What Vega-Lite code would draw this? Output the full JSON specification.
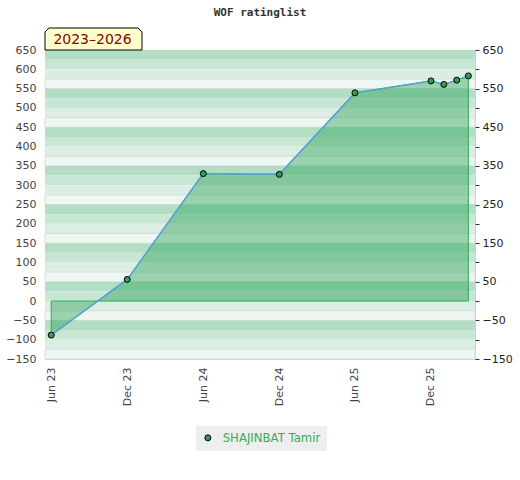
{
  "$schema": "https://vega.github.io/schema/vega-lite/v6.json",
  "width": 430,
  "height": 309,
  "autosize": "none",
  "padding": {"left": 45, "top": 50, "right": 45, "bottom": 121},
  "background": "white",
  "title": {
    "text": "WOF ratinglist",
    "font": "DejaVu Sans Mono",
    "fontSize": 11,
    "fontWeight": "bold",
    "color": "#333333",
    "frame": "group",
    "baseline": "bottom",
    "offset": -3
  },
  "datasets": {
    "stripes": [
      {"lo": 625, "hi": 650, "shade": 1}, {"lo": 600, "hi": 625, "shade": 2}, {"lo": 575, "hi": 600, "shade": 3}, {"lo": 550, "hi": 575, "shade": 4},
      {"lo": 525, "hi": 550, "shade": 1}, {"lo": 500, "hi": 525, "shade": 2}, {"lo": 475, "hi": 500, "shade": 3}, {"lo": 450, "hi": 475, "shade": 4},
      {"lo": 425, "hi": 450, "shade": 1}, {"lo": 400, "hi": 425, "shade": 2}, {"lo": 375, "hi": 400, "shade": 3}, {"lo": 350, "hi": 375, "shade": 4},
      {"lo": 325, "hi": 350, "shade": 1}, {"lo": 300, "hi": 325, "shade": 2}, {"lo": 275, "hi": 300, "shade": 3}, {"lo": 250, "hi": 275, "shade": 4},
      {"lo": 225, "hi": 250, "shade": 1}, {"lo": 200, "hi": 225, "shade": 2}, {"lo": 175, "hi": 200, "shade": 3}, {"lo": 150, "hi": 175, "shade": 4},
      {"lo": 125, "hi": 150, "shade": 1}, {"lo": 100, "hi": 125, "shade": 2}, {"lo": 75, "hi": 100, "shade": 3}, {"lo": 50, "hi": 75, "shade": 4},
      {"lo": 25, "hi": 50, "shade": 1}, {"lo": 0, "hi": 25, "shade": 2}, {"lo": -25, "hi": 0, "shade": 3}, {"lo": -50, "hi": -25, "shade": 4},
      {"lo": -75, "hi": -50, "shade": 1}, {"lo": -100, "hi": -75, "shade": 2}, {"lo": -125, "hi": -100, "shade": 3}, {"lo": -150, "hi": -125, "shade": 4}
    ],
    "rating": [
      {"date": "2023-06-01", "rating": -88, "player": "SHAJINBAT Tamir"},
      {"date": "2023-12-01", "rating": 56, "player": "SHAJINBAT Tamir"},
      {"date": "2024-06-01", "rating": 330, "player": "SHAJINBAT Tamir"},
      {"date": "2024-12-01", "rating": 328, "player": "SHAJINBAT Tamir"},
      {"date": "2025-06-01", "rating": 539, "player": "SHAJINBAT Tamir"},
      {"date": "2025-12-01", "rating": 570, "player": "SHAJINBAT Tamir"},
      {"date": "2026-01-01", "rating": 561, "player": "SHAJINBAT Tamir"},
      {"date": "2026-02-01", "rating": 572, "player": "SHAJINBAT Tamir"},
      {"date": "2026-03-01", "rating": 583, "player": "SHAJINBAT Tamir"}
    ]
  },
  "resolve": {"axis": {"y": "independent"}},
  "layer": [
    {
      "data": {"name": "stripes"},
      "mark": {"type": "rect", "strokeWidth": 1},
      "encoding": {
        "y": {
          "field": "lo", "type": "quantitative",
          "scale": {"domain": [-150, 650], "nice": false, "zero": false},
          "axis": {
            "orient": "left", "title": null, "grid": false, "ticks": false, "domain": false,
            "values": [-150, -100, -50, 0, 50, 100, 150, 200, 250, 300, 350, 400, 450, 500, 550, 600, 650],
            "labelPadding": 9, "labelFont": "DejaVu Sans", "labelFontSize": 11, "labelColor": "#444444"
          }
        },
        "y2": {"field": "hi"},
        "color": {
          "field": "shade", "type": "ordinal",
          "scale": {"domain": [1, 2, 3, 4], "range": ["#b3dec5", "#c8e6d4", "#dceee3", "#eff7f2"]},
          "legend": null
        },
        "stroke": {"condition": {"test": "datum.shade == 4", "value": "#d8dcd9"}, "value": "transparent"}
      }
    },
    {
      "data": {"name": "rating"},
      "mark": {"type": "area", "fill": "#2ea55a", "fillOpacity": 0.45, "stroke": "#34a65a", "strokeWidth": 1},
      "encoding": {
        "x": {
          "field": "date", "type": "temporal",
          "scale": {
            "type": "utc",
            "domain": [{"year": 2023, "month": 5, "date": 17, "utc": true}, {"year": 2026, "month": 3, "date": 17, "utc": true}]
          },
          "axis": {
            "title": null, "grid": false, "ticks": false, "domain": false,
            "values": [
              {"year": 2023, "month": 6, "date": 1, "utc": true},
              {"year": 2023, "month": 12, "date": 1, "utc": true},
              {"year": 2024, "month": 6, "date": 1, "utc": true},
              {"year": 2024, "month": 12, "date": 1, "utc": true},
              {"year": 2025, "month": 6, "date": 1, "utc": true},
              {"year": 2025, "month": 12, "date": 1, "utc": true}
            ],
            "format": "%b %y", "labelAngle": -90, "labelPadding": 8,
            "labelFont": "DejaVu Sans", "labelFontSize": 11, "labelColor": "#444444"
          }
        },
        "y": {
          "field": "rating", "type": "quantitative",
          "axis": {
            "orient": "right", "title": null, "grid": false, "domain": false,
            "values": [-150, -100, -50, 0, 50, 100, 150, 200, 250, 300, 350, 400, 450, 500, 550, 600, 650],
            "labelExpr": "abs(datum.value) % 100 == 50 ? datum.label : ''",
            "tickSize": 4, "tickColor": "#333333", "labelPadding": 3,
            "labelFont": "DejaVu Sans", "labelFontSize": 11, "labelColor": "#222222"
          }
        },
        "y2": {"datum": 0}
      }
    },
    {
      "data": {"name": "rating"},
      "mark": {"type": "line", "color": "#5a9fd8", "strokeWidth": 1.5},
      "encoding": {
        "x": {"field": "date", "type": "temporal"},
        "y": {"field": "rating", "type": "quantitative", "axis": null}
      }
    },
    {
      "data": {"name": "rating"},
      "mark": {"type": "point", "filled": true, "size": 36, "stroke": "black", "strokeWidth": 1, "opacity": 1},
      "encoding": {
        "x": {"field": "date", "type": "temporal"},
        "y": {"field": "rating", "type": "quantitative", "axis": null},
        "fill": {
          "field": "player", "type": "nominal",
          "scale": {"range": ["#2f9e55"]},
          "legend": {
            "orient": "none", "legendX": 151, "legendY": 376, "title": null,
            "fillColor": "#eeeeee", "padding": 6, "symbolType": "circle",
            "symbolSize": 36, "symbolStrokeColor": "black", "symbolStrokeWidth": 1,
            "labelFont": "DejaVu Sans", "labelFontSize": 11.7, "labelColor": "#3aaa5c", "labelOffset": 9
          }
        }
      }
    },
    {
      "data": {"values": [{"label": "2023–2026"}]},
      "mark": {
        "type": "point", "filled": true, "size": 9409, "opacity": 1,
        "shape": "M-1,0.2268 L-1,-0.145 L-0.918,-0.2268 L0.918,-0.2268 L1,-0.145 L1,0.2268 Z",
        "fill": "#ffffcc", "stroke": "black", "strokeWidth": 1,
        "xOffset": 48.5, "yOffset": -11
      },
      "encoding": {
        "x": {"datum": {"year": 2023, "month": 5, "date": 17, "utc": true}, "type": "temporal"},
        "y": {"datum": 650, "type": "quantitative", "axis": null}
      }
    },
    {
      "data": {"values": [{"label": "2023–2026"}]},
      "mark": {
        "type": "text", "align": "center", "baseline": "middle",
        "font": "DejaVu Sans", "fontSize": 14, "color": "#8b0000",
        "xOffset": 47.5, "yOffset": -10
      },
      "encoding": {
        "x": {"datum": {"year": 2023, "month": 5, "date": 17, "utc": true}, "type": "temporal"},
        "y": {"datum": 650, "type": "quantitative", "axis": null},
        "text": {"field": "label"}
      }
    }
  ],
  "config": {"view": {"stroke": "#d0d0d0"}}
}
